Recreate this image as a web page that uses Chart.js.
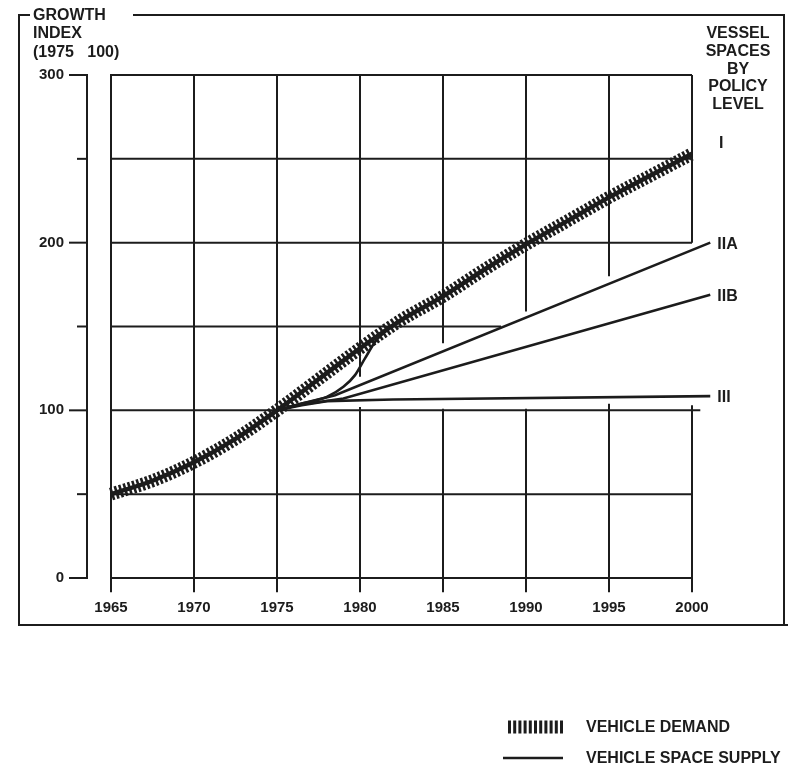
<!DOCTYPE html>
<html>
<head>
<meta charset="utf-8">
<script src="https://cdn.jsdelivr.net/npm/chart.js@4.4.1/dist/chart.umd.min.js"></script>
<style>
  html, body { margin: 0; padding: 0; background: #fff; }
  #wrap { width: 788px; height: 767px; position: relative; }
</style>
</head>
<body>
<div id="wrap"><canvas id="chart"></canvas></div>
<script>
// data (growth index, 1975 = 100)
const xTicks = [1965, 1970, 1975, 1980, 1985, 1990, 1995, 2000];
const yTicks = [0, 100, 200, 300];

const demandYears  = [1965, 1967.5, 1970, 1972.5, 1975, 1977.5, 1980, 1982.5, 1985, 1987.5, 1990, 1992.5, 1995, 1997.5, 2000];
const demandValues = [50, 58, 69, 83, 100, 118.5, 137, 154, 168, 184, 199, 213, 227, 240, 253];

const levelIYears  = [1975, 1976.5, 1978, 1979, 1979.7, 1980.3, 1981, 1982.5, 1985, 1990, 1995, 2000, 2001.2];
const levelIValues = [100, 104, 108, 114, 121, 131, 142, 154, 168, 199, 227, 253, 260];

const levelIIAYears  = [1975, 1976.5, 1978.5, 2001.1];
const levelIIAValues = [100, 104, 109, 200];

const levelIIBYears  = [1975, 1976.5, 1979, 2001.1];
const levelIIBValues = [100, 103.5, 107, 169];

const levelIIIYears  = [1975, 1976.5, 1978, 1982, 2001.1];
const levelIIIValues = [100, 103, 105.5, 106.5, 108.5];

const levelNames = ['I', 'IIA', 'IIB', 'III'];

const INK = '#1c1c1c';
const FONT = '"Liberation Sans", Arial, sans-serif';

function pts(xs, ys) { return xs.map((v, i) => ({ x: v, y: ys[i] })); }

// hand drawn grid of the original: rows end at a year, columns have broken parts
const gridRows = [[300, 2000], [250, 2000], [200, 2000], [150, 1988.5], [100, 2000.5], [50, 2000], [0, 2000]];
const gridCols = [
  [1965, [[-8.5, 300]]],
  [1970, [[-8.5, 300]]],
  [1975, [[-8.5, 300]]],
  [1980, [[-8.5, 102], [120, 300]]],
  [1985, [[-8.5, 101], [140, 300]]],
  [1990, [[-8.5, 101], [159, 300]]],
  [1995, [[-8.5, 104], [180, 300]]],
  [2000, [[-8.5, 103], [200, 300]]]
];

function seg(ctx, x1, y1, x2, y2) {
  ctx.beginPath(); ctx.moveTo(x1, y1); ctx.lineTo(x2, y2); ctx.stroke();
}

const paper = {
  id: 'paper',
  beforeDatasetsDraw(chart) {
    const { ctx, chartArea } = chart;
    const x = chart.scales.x, y = chart.scales.y;
    ctx.save();
    ctx.strokeStyle = INK;
    ctx.lineWidth = 2;
    gridRows.forEach(r => {
      const py = y.getPixelForValue(r[0]);
      seg(ctx, x.getPixelForValue(1965) - 1, py, x.getPixelForValue(r[1]), py);
    });
    gridCols.forEach(c => {
      const px = x.getPixelForValue(c[0]);
      c[1].forEach(p => seg(ctx, px, y.getPixelForValue(p[0]), px, y.getPixelForValue(p[1])));
    });
    // separate value axis left of the grid
    const ax = chartArea.left - 24;
    seg(ctx, ax, y.getPixelForValue(300) - 1, ax, y.getPixelForValue(0) + 1);
    for (let v = 0; v <= 300; v += 50) {
      const py = y.getPixelForValue(v);
      seg(ctx, ax - (v % 100 === 0 ? 18 : 10), py, ax + 1, py);
    }
    ctx.restore();
  },
  afterDraw(chart) {
    const { ctx } = chart;
    ctx.save();
    ctx.strokeStyle = INK;
    ctx.fillStyle = INK;
    ctx.lineWidth = 2;

    // outer frame
    seg(ctx, 30, 15, 19, 15);
    seg(ctx, 19, 14, 19, 626);
    seg(ctx, 18, 625, 788, 625);
    seg(ctx, 133, 15, 784, 15);
    seg(ctx, 784, 14, 784, 625);

    ctx.font = 'bold 16px ' + FONT;
    ctx.textBaseline = 'middle';
    ctx.textAlign = 'left';
    ctx.fillText('GROWTH', 33, 16);
    ctx.fillText('INDEX', 33, 34);
    ctx.fillText('(1975   100)', 33, 53);

    ctx.textAlign = 'center';
    ['VESSEL', 'SPACES', 'BY', 'POLICY', 'LEVEL'].forEach((t, i) => ctx.fillText(t, 738, 34 + i * 17.6));

    // level names at the line ends
    ctx.textAlign = 'left';
    levelNames.forEach((n, i) => {
      const meta = chart.getDatasetMeta(i + 2);
      const last = meta.data[meta.data.length - 1];
      ctx.fillText(n, last.x + 7, last.y + 2);
    });

    // legend
    ctx.save();
    ctx.lineWidth = 13;
    ctx.setLineDash([3, 2.2]);
    seg(ctx, 508, 727, 564, 727);
    ctx.restore();
    ctx.lineWidth = 2.5;
    seg(ctx, 503, 758, 563, 758);
    ctx.fillText('VEHICLE DEMAND', 586, 728);
    ctx.fillText('VEHICLE SPACE SUPPLY', 586, 759);
    ctx.restore();
  }
};

const supplyStyle = {
  borderColor: INK, borderWidth: 2.6, pointRadius: 0, fill: false, tension: 0, clip: false
};

new Chart(document.getElementById('chart'), {
  type: 'line',
  data: {
    datasets: [
      { label: 'Vehicle demand', data: pts(demandYears, demandValues), borderColor: INK, borderWidth: 13,
        borderDash: [2.6, 2], borderCapStyle: 'butt', pointRadius: 0, cubicInterpolationMode: 'monotone', clip: false },
      { label: 'Vehicle demand core', data: pts(demandYears, demandValues), borderColor: INK, borderWidth: 4.5,
        pointRadius: 0, cubicInterpolationMode: 'monotone', clip: false },
      Object.assign({ label: 'I', data: pts(levelIYears, levelIValues) }, supplyStyle, { cubicInterpolationMode: 'monotone' }),
      Object.assign({ label: 'IIA', data: pts(levelIIAYears, levelIIAValues) }, supplyStyle),
      Object.assign({ label: 'IIB', data: pts(levelIIBYears, levelIIBValues) }, supplyStyle),
      Object.assign({ label: 'III', data: pts(levelIIIYears, levelIIIValues) }, supplyStyle)
    ]
  },
  options: {
    responsive: true,
    maintainAspectRatio: false,
    animation: false,
    layout: { padding: { left: 0, top: 75, right: 96, bottom: 149 } },
    plugins: { legend: { display: false }, tooltip: { enabled: false } },
    scales: {
      x: {
        type: 'linear', min: 1965, max: 2000,
        afterBuildTicks: s => { s.ticks = xTicks.map(v => ({ value: v })); },
        afterFit: s => { s.height = 40; },
        grid: { display: false, drawTicks: false },
        border: { display: false },
        ticks: { color: INK, padding: 21, font: { family: FONT, size: 15, weight: 'bold' }, callback: v => String(v) }
      },
      y: {
        min: 0, max: 300,
        afterBuildTicks: s => { s.ticks = yTicks.map(v => ({ value: v })); },
        afterFit: s => { s.width = 111; },
        grid: { display: false, drawTicks: false },
        border: { display: false },
        ticks: { color: INK, padding: 47, font: { family: FONT, size: 15, weight: 'bold' }, callback: v => String(v) }
      }
    }
  },
  plugins: [paper]
});
</script>
</body>
</html>
